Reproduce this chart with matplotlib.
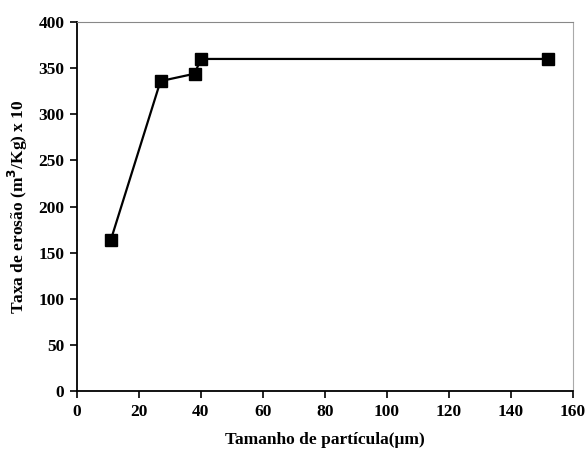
import matplotlib.pyplot as plt

plt.rcParams['font.family'] = ['Liberation Serif', 'DejaVu Serif']

tamanho = [11, 27, 38, 40, 152]
taxa = [164, 336, 344, 360, 360]

fig = plt.figure(figsize=(5.86, 4.5), dpi=100)
ax = fig.add_axes([0.131, 0.131, 0.847, 0.82])

ax.plot(tamanho, taxa, color="black", linewidth=1.6, marker="s", markersize=9,
        markerfacecolor="black", markeredgecolor="black")

ax.set_xlim(0, 160)
ax.set_ylim(0, 400)
ax.set_xticks(range(0, 161, 20))
ax.set_yticks(range(0, 401, 50))

for lab in ax.get_xticklabels() + ax.get_yticklabels():
    lab.set_fontweight("bold")
    lab.set_fontsize(12.5)

ax.tick_params(direction="out", length=5, width=1.2, pad=4)
ax.spines["left"].set_linewidth(1.3)
ax.spines["bottom"].set_linewidth(1.3)
ax.spines["top"].set_color("#888888")
ax.spines["right"].set_color("#aaaaaa")

ax.set_xlabel("Tamanho de partícula(μm)", fontsize=12.5, fontweight="bold", labelpad=9)
ax.set_ylabel("Taxa de erosão (m$^{\\mathbf{3}}$/Kg) x 10", fontsize=12.5, fontweight="bold", labelpad=6)

fig.savefig("out.png", dpi=100)
